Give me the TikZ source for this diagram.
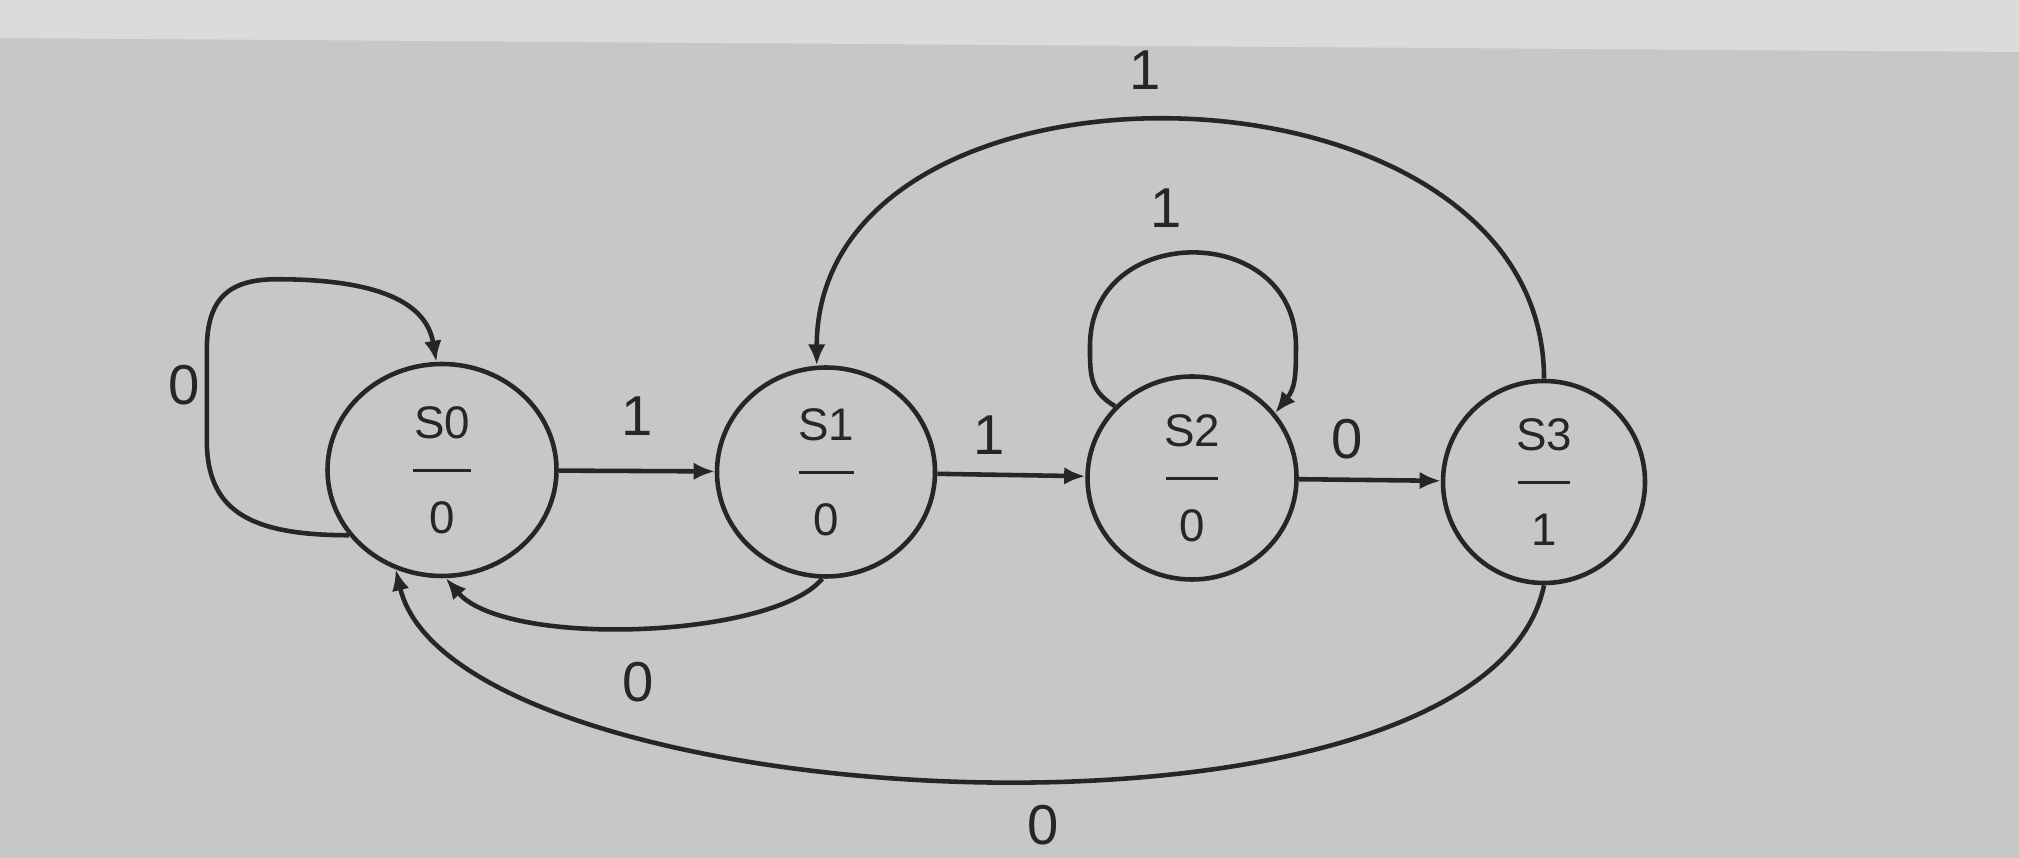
\documentclass[tikz,border=0pt]{standalone}
\usepackage{fontspec}
\setmainfont{Liberation Sans}
\usetikzlibrary{shapes.geometric,arrows.meta}
\definecolor{paper}{HTML}{C7C8C6}
\definecolor{paperlight}{HTML}{DBDCDA}
\definecolor{ink}{HTML}{262626}
\begin{document}
\begin{tikzpicture}
        % Define styles for states and transitions
        \tikzset{
            statenode/.style={draw=ink, ellipse, line width=1.3pt, inner sep=0pt, align=center,
                font=\fontsize{13}{13.5}\selectfont, text=ink},
            trans/.style={draw=ink, line width=1.3pt, -{Latex[length=6pt, width=5pt]}},
            translabel/.style={font=\fontsize{16}{18}\selectfont, text=ink}
        }
        % Background of the photo
        \fill[paper] (0,0) rectangle (20.19,8.58);
        \fill[paperlight] (0,8.58) -- (0,8.20) -- (20.19,8.06) -- (20.19,8.58) -- cycle;
        \useasboundingbox (0,0) rectangle (20.19,8.58);
        % Draw states
        \node[statenode, minimum width=2.29cm, minimum height=2.12cm] (s0) at (4.42, 3.88)
            {S0\\\rule[0.3em]{0.58cm}{0.9pt}\\0};
        \node[statenode, minimum width=2.18cm, minimum height=2.09cm] (s1) at (8.26, 3.86)
            {S1\\\rule[0.3em]{0.55cm}{0.9pt}\\0};
        \node[statenode, minimum width=2.09cm, minimum height=2.03cm] (s2) at (11.92, 3.80)
            {S2\\\rule[0.3em]{0.52cm}{0.9pt}\\0};
        \node[statenode, minimum width=2.02cm, minimum height=2.02cm] (s3) at (15.44, 3.76)
            {S3\\\rule[0.3em]{0.52cm}{0.9pt}\\1};
        % Draw transitions
        \draw[trans] (s0) -- (s1) node[midway, above=6pt, translabel] {1};
        \draw[trans] (s1) -- (s2) node[midway, above=2pt, xshift=-0.22cm, translabel] {1};
        \draw[trans] (s2) -- (s3) node[midway, above=2pt, xshift=-0.23cm, translabel] {0};
        % Self loops
        \draw[trans] (s0.215) .. controls +(-1.0,0) and +(0,-0.7) .. ++(-1.42,0.95)
            -- ++(0,0.9) node[midway, left=-2pt, yshift=0.1cm, translabel] {0}
            .. controls +(0,0.5) and +(-0.5,0) .. ++(0.7,0.71)
            .. controls +(1.0,0) and +(-0.1,0.6) .. (s0.93);
        \draw[trans] (s2.137) .. controls +(-0.25,0.15) and +(0,-0.3) .. ++(-0.25,0.6)
            .. controls +(0,1.25) and +(0,1.25) .. ++(2.06,0)
            node[midway, above=3pt, xshift=-0.27cm, translabel] {1}
            .. controls +(0,-0.3) and +(0.2,0.25) .. (s2.38);
        % Back transitions
        \draw[trans] (s3.north) .. controls +(0,3.35) and +(0,3.35) .. (s1.95)
            node[midway, above=5pt, xshift=-0.35cm, translabel] {1};
        \draw[trans] (s1.268) .. controls +(-0.5,-0.6) and +(0.6,-0.7) .. (s0.272)
            node[midway, below=6pt, translabel] {0};
        \draw[trans] (s3.south) .. controls +(-0.6,-2.9) and +(0.6,-2.5) .. (s0.245)
            node[pos=0.45, below=3pt, xshift=-0.08cm, translabel] {0};
\end{tikzpicture}
\end{document}
